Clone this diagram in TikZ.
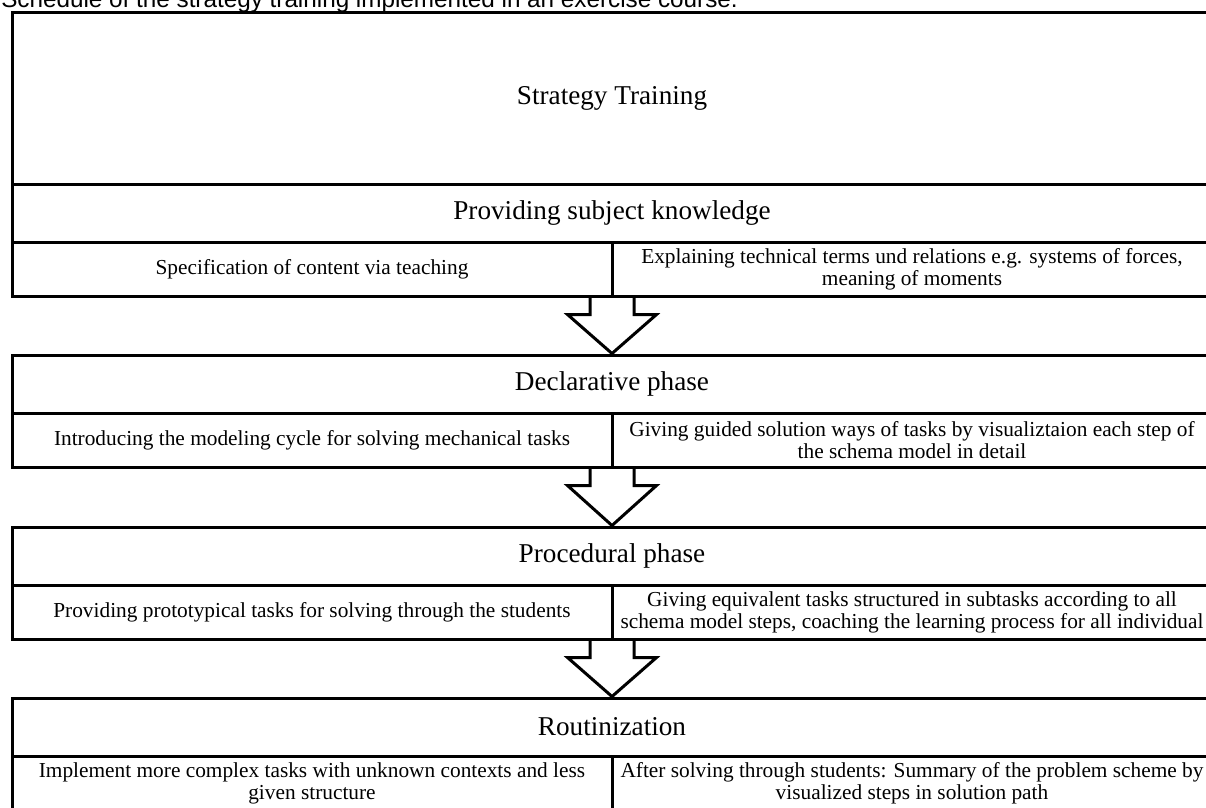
\documentclass[tikz,border=0pt]{standalone}
\usepackage{fontspec}
\setmainfont{Liberation Serif}
\newfontfamily\titlefont{Liberation Sans}
\usetikzlibrary{calc}

% block arrow from the bottom of one stage to the header of the next
\newcommand{\stagearrow}[2]{%
  \draw[blockarrow] ($(#2.north |- #1.south)+(-22,0)$) -- ++(0,17) -- ++(-22.5,0)
    -- (#2.north) -- ($(#2.north |- #1.south)+(44.5,17)$) -- ++(-22.5,0) -- ++(0,-17);}

\begin{document}
\begin{tikzpicture}
  [x=0.75pt, y=-0.75pt,
   frame/.style={rectangle, draw, line width=2.25pt, inner sep=0pt},
   bigbox/.style={frame, minimum width=900pt, minimum height=129pt, font=\fontsize{20.4}{24}\selectfont},
   phase/.style={frame, minimum width=900pt, minimum height=43.5pt, font=\fontsize{20.4}{24}\selectfont},
   task/.style={frame, minimum width=450pt, minimum height=40.5pt, align=center, font=\fontsize{16}{16.5}\selectfont},
   blockarrow/.style={line width=2.25pt, line join=miter}]
  \useasboundingbox (0,0) rectangle (1206,807);
  \clip (0,0) rectangle (1206,807);

  \node[anchor=base west, inner sep=0pt, font=\titlefont\fontsize{18.2}{20}\selectfont] (caption) at (1,7.5)
    {Schedule of the strategy training implemented in an exercise course.};

  \node[bigbox] (training) at (612,98) {Strategy Training};

  % stage 1
  \node[phase] (knowledge) at (612,213) {Providing subject knowledge};
  \node[task] (knowledge_l) at (312,269) {Specification of content via teaching};
  \node[task] (knowledge_r) at (912,269) {Explaining technical terms und relations e.g. systems of forces,\\ meaning of moments};

  % stage 2
  \node[phase] (declarative) at (612,384) {Declarative phase};
  \node[task] (declarative_l) at (312,440) {Introducing the modeling cycle for solving mechanical tasks};
  \node[task] (declarative_r) at (912,440) {Giving guided solution ways of tasks by visualiztaion each step of\\ the schema model in detail};

  % stage 3
  \node[phase] (procedural) at (612,556) {Procedural phase};
  \node[task] (procedural_l) at (312,612) {Providing prototypical tasks for solving through the students};
  \node[task] (procedural_r) at (912,612) {Giving equivalent tasks structured in subtasks according to all\\ schema model steps, coaching the learning process for all individual};

  % stage 4
  \node[phase] (routine) at (612,727) {Routinization};
  \node[task] (routine_l) at (312,783) {Implement more complex tasks with unknown contexts and less\\ given structure};
  \node[task] (routine_r) at (912,783) {After solving through students: Summary of the problem scheme by\\ visualized steps in solution path};

  \stagearrow{knowledge_l}{declarative}
  \stagearrow{declarative_l}{procedural}
  \stagearrow{procedural_l}{routine}
\end{tikzpicture}
\end{document}
